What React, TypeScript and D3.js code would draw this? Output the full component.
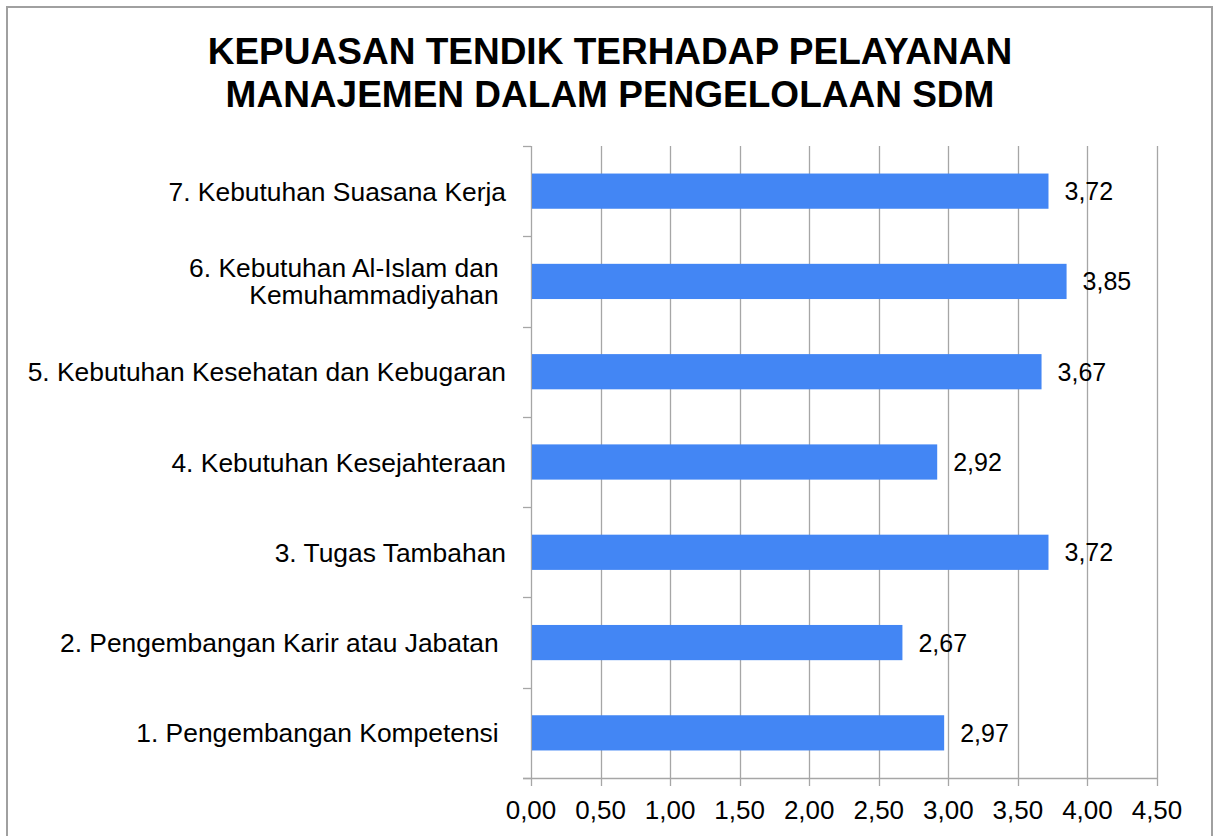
import React from "react";
import * as d3 from "d3";

const categoryLines: string[][] = [
  ["1. Pengembangan Kompetensi "],
  ["2. Pengembangan Karir atau Jabatan "],
  ["3. Tugas Tambahan"],
  ["4. Kebutuhan Kesejahteraan"],
  ["5. Kebutuhan Kesehatan dan Kebugaran"],
  ["6. Kebutuhan Al-Islam dan ", "Kemuhammadiyahan "],
  ["7. Kebutuhan Suasana Kerja"],
];
const categoryIds = ["1", "2", "3", "4", "5", "6", "7"];
const values = [2.97, 2.67, 3.72, 2.92, 3.67, 3.85, 3.72];
const tickValues = [0, 0.5, 1, 1.5, 2, 2.5, 3, 3.5, 4, 4.5];
const titleLines = [
  "KEPUASAN TENDIK TERHADAP PELAYANAN",
  "MANAJEMEN DALAM PENGELOLAAN SDM",
];

const W = 1215;
const H = 836;
const FONT = "'Liberation Sans', Arial, sans-serif";
const GRID = "#a6a6a6";
const BAR = "#4386f4";

const fmt = (v: number) => d3.format(".2f")(v).replace(".", ",");

export default function App() {
  const plot = { left: 531, right: 1157, top: 146, bottom: 778 };
  const x = d3.scaleLinear().domain([0, 4.5]).range([plot.left, plot.right]);
  const y = d3
    .scaleBand<string>()
    .domain([...categoryIds].reverse())
    .range([plot.top, plot.bottom])
    .paddingInner(0.61)
    .paddingOuter(0.305);
  const step = y.step();
  const bw = y.bandwidth();
  const boundaries = d3.range(categoryIds.length + 1).map((i) => plot.top + i * step);

  return (
    <svg
      width={W}
      height={H}
      style={{ position: "absolute", left: 0, top: 0, display: "block", background: "#fff" }}
      fontFamily={FONT}
    >
      <rect x={0} y={0} width={W} height={H} fill="#fff" />
      <rect x={7} y={7} width={1205} height={850} fill="none" stroke="#a0a0a0" strokeWidth={2} />

      {titleLines.map((t, i) => (
        <text
          key={t}
          x={610}
          y={64 + i * 43}
          textAnchor="middle"
          fontWeight="bold"
          fontSize={37}
          fill="#000"
        >
          {t}
        </text>
      ))}

      {/* vertical gridlines */}
      {tickValues.map((t) => (
        <line
          key={"g" + t}
          x1={Math.round(x(t)) + 0.5}
          x2={Math.round(x(t)) + 0.5}
          y1={plot.top}
          y2={plot.bottom + 8}
          stroke={GRID}
          strokeWidth={1.3}
        />
      ))}
      {/* bottom axis */}
      <line x1={plot.left - 8} x2={plot.right} y1={plot.bottom + 0.5} y2={plot.bottom + 0.5} stroke={GRID} strokeWidth={1.3} />
      {/* left axis ticks */}
      {boundaries.map((b, i) => (
        <line
          key={"lt" + i}
          x1={plot.left - 8}
          x2={plot.left}
          y1={Math.round(b) + 0.5}
          y2={Math.round(b) + 0.5}
          stroke={GRID}
          strokeWidth={1.3}
        />
      ))}

      {/* bars */}
      {categoryIds.map((id, i) => (
        <rect
          key={"b" + id}
          x={x(0) + 1}
          y={y(id)!}
          width={x(values[i]) - x(0) - 1}
          height={bw}
          fill={BAR}
        />
      ))}

      {/* value labels */}
      {categoryIds.map((id, i) => (
        <text
          key={"v" + id}
          x={x(values[i]) + 16}
          y={y(id)! + bw / 2 + 9}
          fontSize={25}
          fill="#000"
        >
          {fmt(values[i])}
        </text>
      ))}

      {/* category labels */}
      {categoryIds.map((id, i) => {
        const lines = categoryLines[i];
        const cy = y(id)! + bw / 2;
        const lh = 27;
        const y0 = cy - ((lines.length - 1) * lh) / 2 + 9.5;
        return (
          <text key={"c" + id} fontSize={26.4} fill="#000" textAnchor="end" style={{ whiteSpace: "pre" }}>
            {lines.map((l, j) => (
              <tspan key={j} x={506} y={y0 + j * lh}>
                {l}
              </tspan>
            ))}
          </text>
        );
      })}

      {/* x tick labels */}
      {tickValues.map((t) => (
        <text key={"t" + t} x={x(t)} y={819} textAnchor="middle" fontSize={26} fill="#000">
          {fmt(t)}
        </text>
      ))}
    </svg>
  );
}
